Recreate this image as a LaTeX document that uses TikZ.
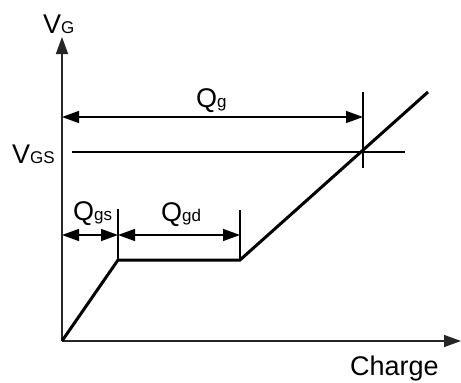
\documentclass[tikz,border=0pt]{standalone}
\usepackage{fontspec}
\setmainfont{Liberation Sans}
\usetikzlibrary{arrows.meta}
\newcommand\bigtxt{\fontsize{27}{30}\selectfont}
\newcommand\sm[1]{{\fontsize{17}{20}\selectfont #1}}

\begin{document}
\begin{tikzpicture}[x=1pt,y=-1pt,>={Triangle[length=17pt,width=12pt]},
      axis/.style={draw=black!85,line width=1.6pt},
      dim/.style={<->,line width=1.4pt},
      tick/.style={line width=1.4pt},
      lbl/.style={anchor=base west,inner sep=0pt,font=\bigtxt}]
			\useasboundingbox (0,0) rectangle (461,383);
			% axes
			\coordinate (O) at (62,341);
			\coordinate (ytop) at (62,37);
			\coordinate (xend) at (461,341);
			\draw[axis,->] (O) -- (ytop);
			\draw[axis,->] (O) -- (xend);
			\node[lbl] (vg) at (43,33) {V\sm{G}};
			\node[lbl] (charge) at (350,375) {Charge};
			% gate charge curve
			\coordinate (p1) at (118,260);
			\coordinate (p2) at (240,260);
			\coordinate (p3) at (428,92);
			\draw[line width=3pt] (O) -- (p1) -- (p2) -- (p3);
			% V_GS level
			\coordinate (vs1) at (72,152);
			\coordinate (vs2) at (405,152);
			\draw[tick] (vs1) -- (vs2);
			\node[lbl] (vgs) at (12,163) {V\sm{GS}};
			% Q_g
			\coordinate (tg1) at (363,92);
			\coordinate (tg2) at (363,168);
			\draw[tick] (tg1) -- (tg2);
			\coordinate (qgL) at (62,117);
			\coordinate (qgR) at (363,117);
			\draw[dim] (qgL) -- (qgR);
			\node[lbl] (qg) at (196,107) {Q\sm{g}};
			% Q_gs and Q_gd
			\coordinate (ts1) at (118,209);
			\coordinate (td1) at (240,210);
			\draw[tick] (ts1) -- (p1);
			\draw[tick] (td1) -- (p2);
			\coordinate (a0) at (62,235);
			\coordinate (a1) at (118,235);
			\coordinate (a2) at (240,235);
			\draw[dim] (a0) -- (a1);
			\draw[dim] (a1) -- (a2);
			\node[lbl] (qgs) at (73,220) {Q\sm{gs}};
			\node[lbl] (qgd) at (161,221) {Q\sm{gd}};
		\end{tikzpicture}
\end{document}
